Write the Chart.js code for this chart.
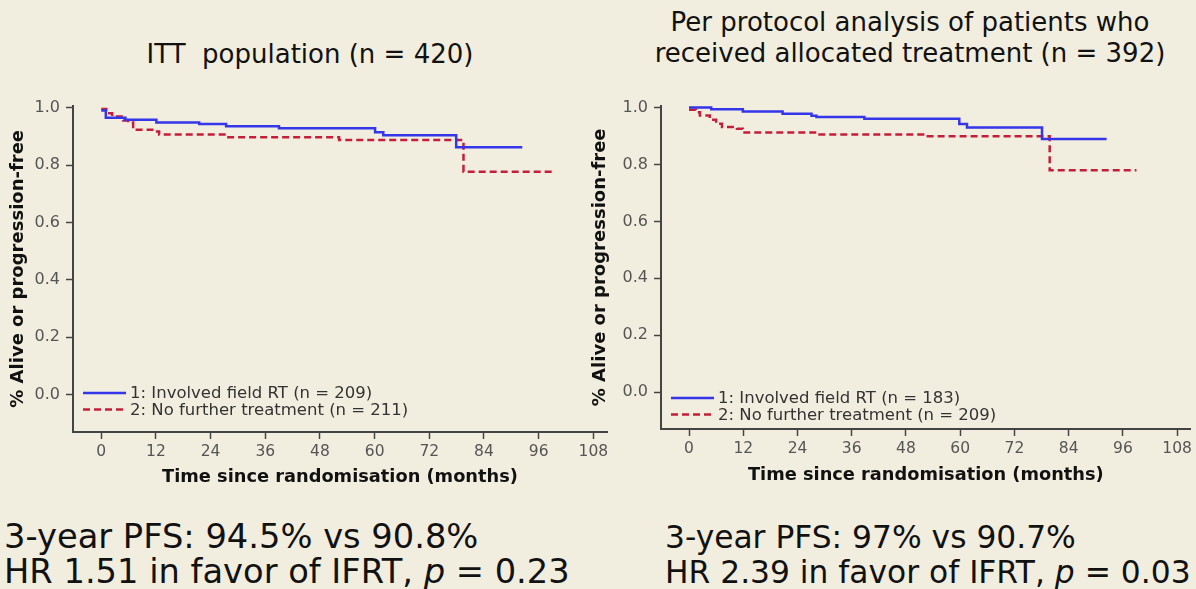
<!DOCTYPE html>
<html>
<head>
<meta charset="utf-8">
<script src="https://cdn.jsdelivr.net/npm/chart.js@4/dist/chart.umd.min.js"></script>
<style>
  html, body { margin: 0; padding: 0; }
  body { width: 1196px; height: 589px; background: #f2eedf; position: relative; overflow: hidden;
         font-family: "DejaVu Sans", Verdana, sans-serif; color: #111; }
  .box { position: absolute; }
  .title { position: absolute; font-size: 26px; line-height: 31px; text-align: center; white-space: nowrap; }
  .note { position: absolute; line-height: 35px; white-space: nowrap; }
</style>
</head>
<body>
<div class="title" style="left:110px; width:400px; top:39px;">ITT&nbsp; population (n = 420)</div>
<div class="title" style="left:610px; width:600px; top:7px;">Per protocol analysis of patients who<br>received allocated treatment (n = 392)</div>

<div class="box" style="left:0px; top:90px; width:620px; height:410px;"><canvas id="chartItt"></canvas></div>
<div class="box" style="left:582px; top:90px; width:614px; height:407px;"><canvas id="chartPp"></canvas></div>

<div class="note" style="left:4px; top:519px; font-size:33.7px;">3-year PFS: 94.5% vs 90.8%<br>HR 1.51 in favor of IFRT, <i>p</i> = 0.23</div>
<div class="note" style="left:665px; top:520px; font-size:31.3px;">3-year PFS: 97% vs 90.7%<br>HR 2.39 in favor of IFRT, <i>p</i> = 0.03</div>

<script>
// tick values
const xTicks = [0, 12, 24, 36, 48, 60, 72, 84, 96, 108];
const yTicks = [0, 0.2, 0.4, 0.6, 0.8, 1.0];

// ITT population, step points (months, survival)
const ittIfrtTime = [0, 1, 5.3, 12.1, 21.5, 27.4, 39, 60.1, 61.9, 77.9, 92.4];
const ittIfrtSurv = [0.99, 0.965, 0.958, 0.948, 0.943, 0.935, 0.928, 0.914, 0.904, 0.862, 0.862];
const ittNoTxTime = [0, 1.1, 2.4, 4.8, 5.9, 7, 11.2, 12.7, 27.9, 52.2, 79.5, 99];
const ittNoTxSurv = [0.995, 0.98, 0.969, 0.955, 0.948, 0.923, 0.917, 0.906, 0.897, 0.887, 0.777, 0.777];

// per protocol
const ppIfrtTime = [0, 4.9, 11.9, 20.7, 27.1, 28.2, 38.8, 59.8, 61.5, 78.1, 92.4];
const ppIfrtSurv = [1.0, 0.994, 0.986, 0.978, 0.971, 0.967, 0.961, 0.942, 0.93, 0.89, 0.89];
const ppNoTxTime = [0, 1.5, 2.4, 4.6, 6, 7.3, 10.6, 11.9, 28.2, 51.8, 79.8, 99];
const ppNoTxSurv = [0.992, 0.984, 0.972, 0.957, 0.943, 0.932, 0.926, 0.912, 0.905, 0.899, 0.78, 0.78];

const BLUE = '#3535ea';
const RED = '#c41e3a';
const AXIS = '#444';
const FONT = '"DejaVu Sans", Verdana, sans-serif';

function pts(t, s) { return t.map((v, i) => ({x: v, y: s[i]})); }

// legend drawn inside the plot, bottom left
const kmLegend = {
  id: 'kmLegend',
  afterDatasetsDraw(chart, args, opts) {
    const c = chart.ctx, a = chart.chartArea;
    c.save();
    c.font = '16.5px ' + FONT;
    c.textBaseline = 'middle';
    chart.data.datasets.forEach((ds, i) => {
      const y = a.bottom - opts.offset + i * 16.5;
      const x = a.left + 10;
      c.strokeStyle = ds.borderColor;
      c.lineWidth = 2.5;
      c.setLineDash(ds.borderDash || []);
      c.beginPath(); c.moveTo(x, y); c.lineTo(x + 43, y); c.stroke();
      c.setLineDash([]);
      c.fillStyle = '#333';
      c.fillText(ds.label, x + 47, y + 1);
    });
    c.restore();
  }
};

function makeChart(id, blue, red, legendOffset, yWidth, padRight, titlePad) {
  new Chart(document.getElementById(id), {
    type: 'line',
    data: {
      datasets: [
        {label: blue.label, data: blue.data, borderColor: BLUE, borderWidth: 2.5, stepped: true, pointRadius: 0, fill: false},
        {label: red.label, data: red.data, borderColor: RED, borderWidth: 2.5, borderDash: [7, 4], stepped: true, pointRadius: 0, fill: false}
      ]
    },
    options: {
      responsive: true,
      maintainAspectRatio: false,
      animation: false,
      layout: {padding: {top: 15, right: padRight, left: 0, bottom: 0}},
      plugins: {legend: {display: false}, tooltip: {enabled: false}, kmLegend: {offset: legendOffset}},
      scales: {
        x: {
          type: 'linear', min: -6.2, max: 111,
          afterBuildTicks: s => { s.ticks = xTicks.map(v => ({value: v})); },
          afterFit: s => { s.height = 68; },
          grid: {drawOnChartArea: false, drawTicks: true, tickLength: 7, tickColor: AXIS, tickWidth: 1.5},
          border: {color: AXIS, width: 2},
          ticks: {color: '#555', padding: 4, font: {size: 15.5, family: FONT}, callback: v => String(v)},
          title: {display: true, text: 'Time since randomisation (months)', color: '#111', padding: {top: 4, bottom: titlePad},
                  font: {size: 17.8, weight: 'bold', family: FONT}}
        },
        y: {
          type: 'linear', min: -0.13, max: 1.007,
          afterBuildTicks: s => { s.ticks = yTicks.map(v => ({value: v})); },
          afterFit: s => { s.width = yWidth; },
          grid: {drawOnChartArea: false, drawTicks: true, tickLength: 7, tickColor: AXIS, tickWidth: 1.5},
          border: {color: AXIS, width: 2},
          ticks: {color: '#555', padding: 6, font: {size: 16, family: FONT}, callback: v => v.toFixed(1)},
          title: {display: true, text: '% Alive or progression-free', color: '#111', padding: {top: 7.5, bottom: 4},
                  font: {size: 18, weight: 'bold', family: FONT}}
        }
      }
    },
    plugins: [kmLegend]
  });
}

makeChart('chartItt',
  {label: '1: Involved field RT (n = 209)', data: pts(ittIfrtTime, ittIfrtSurv)},
  {label: '2: No further treatment (n = 211)', data: pts(ittNoTxTime, ittNoTxSurv)},
  39, 73, 13, 12);

makeChart('chartPp',
  {label: '1: Involved field RT (n = 183)', data: pts(ppIfrtTime, ppIfrtSurv)},
  {label: '2: No further treatment (n = 209)', data: pts(ppNoTxTime, ppNoTxSurv)},
  31, 79, 3, 11);
</script>
</body>
</html>
